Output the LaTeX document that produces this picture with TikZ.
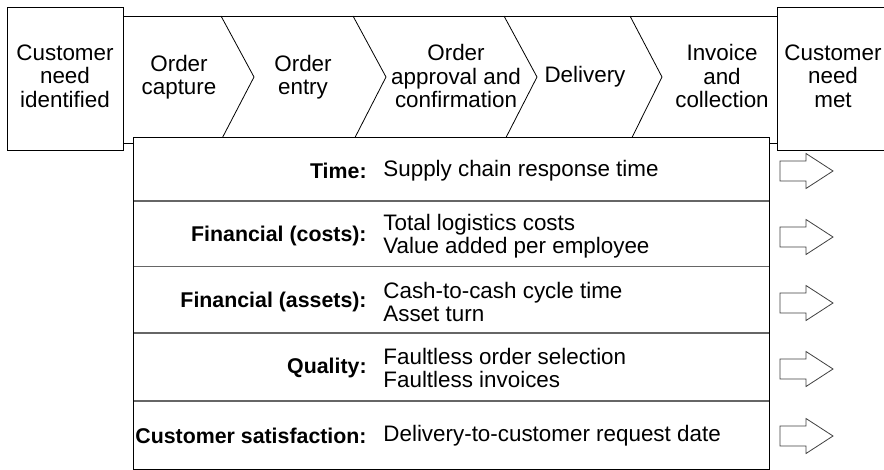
\documentclass[tikz,border=0pt]{standalone}
\usepackage{fontspec}
\setmainfont{Liberation Sans}
\begin{document}
\begin{tikzpicture}[x=0.75pt,y=-0.75pt,line width=0.6pt,
  endbox/.style={draw,inner sep=0pt,minimum height=107.25pt,align=center,
    font=\fontsize{16.8}{17.6}\selectfont},
  stagetext/.style={inner sep=0pt,align=center,font=\fontsize{16.8}{17.6}\selectfont},
  kpilabel/.style={anchor=east,inner sep=0pt,align=right,font=\fontsize{16}{17}\selectfont\bfseries},
  kpivalue/.style={anchor=west,inner sep=0pt,align=left,font=\fontsize{16.8}{17}\selectfont},
  sepline/.style={draw=black!60,line width=0.8pt},
  chevron/.style={draw=black,line width=0.6pt},
  blockarrow/.style={draw=black!75,line width=0.6pt,fill=white}]
\useasboundingbox (0,0) rectangle (884,470);
\clip (0,0) rectangle (884,470);

% end boxes
\node[endbox,minimum width=87pt] (need) at (65,78.5) {};
\node[stagetext] (needtext) at (65,76) {Customer\\need\\identified};
\node[endbox,minimum width=84.75pt] (met) at (833.5,78.5) {};
\node[stagetext] (mettext) at (833,76) {Customer\\need\\met};

% band top edge
\coordinate (bandL) at (123,16);
\coordinate (bandR) at (777,16);
\draw (bandL) -- (bandR);

% chevron dividers
\draw[chevron] (221,16) -- (254,77) -- (222.5,137.5);
\draw[chevron] (353,16) -- (386,77) -- (355,137.5);
\draw[chevron] (504,16) -- (537,77) -- (506,137.5);
\draw[chevron] (630,16) -- (662,77) -- (632,137.5);

% stage texts
\node[stagetext] (s1) at (179,77) {Order\\capture};
\node[stagetext] (s2) at (303,77) {Order\\entry};
\node[stagetext] (s3) at (456,76) {Order\\approval and\\confirmation};
\node[stagetext] (s4) at (585,77) {Delivery};
\node[stagetext] (s5) at (722,76) {Invoice\\and\\collection};

% table
\coordinate (tTL) at (133,137.5);
\coordinate (tBR) at (769,469);
\draw[sepline] (133,201) -- (769,201);
\draw[sepline] (133,266.5) -- (769,266.5);
\draw[sepline] (133,333) -- (769,333);
\draw[sepline] (133,401) -- (769,401);
\draw[black,line width=0.7pt] (tTL) rectangle (tBR);

% small links from end boxes to table
\coordinate (linkL) at (133,143);
\coordinate (linkR) at (769,143);
\draw (need.east |- linkL) -- (linkL);
\draw (linkR) -- (met.west |- linkR);

% rows
\node[kpilabel] (l1) at (367,171) {Time:};
\node[kpivalue] (v1) at (383,171) {Supply chain response time};
\node[kpilabel] (l2) at (367,236) {Financial (costs):};
\node[kpivalue] (v2) at (383,236) {Total logistics costs\\Value added per employee};
\node[kpilabel] (l3) at (367,302) {Financial (assets):};
\node[kpivalue] (v3) at (383,302) {Cash-to-cash cycle time\\Asset turn};
\node[kpilabel] (l4) at (367,368) {Quality:};
\node[kpivalue] (v4) at (383,368) {Faultless order selection\\Faultless invoices};
\node[kpilabel] (l5) at (367,436) {Customer satisfaction:};
\node[kpivalue] (v5) at (383,436) {Delivery-to-customer request date};

% block arrows
\foreach \c in {171,237,303,369,436}{
  \draw[blockarrow] (780,\c-10) -- (806,\c-10) -- (806,\c-17.5) -- (833,\c)
    -- (806,\c+17.5) -- (806,\c+10) -- (780,\c+10) -- cycle;
}
\end{tikzpicture}
\end{document}
